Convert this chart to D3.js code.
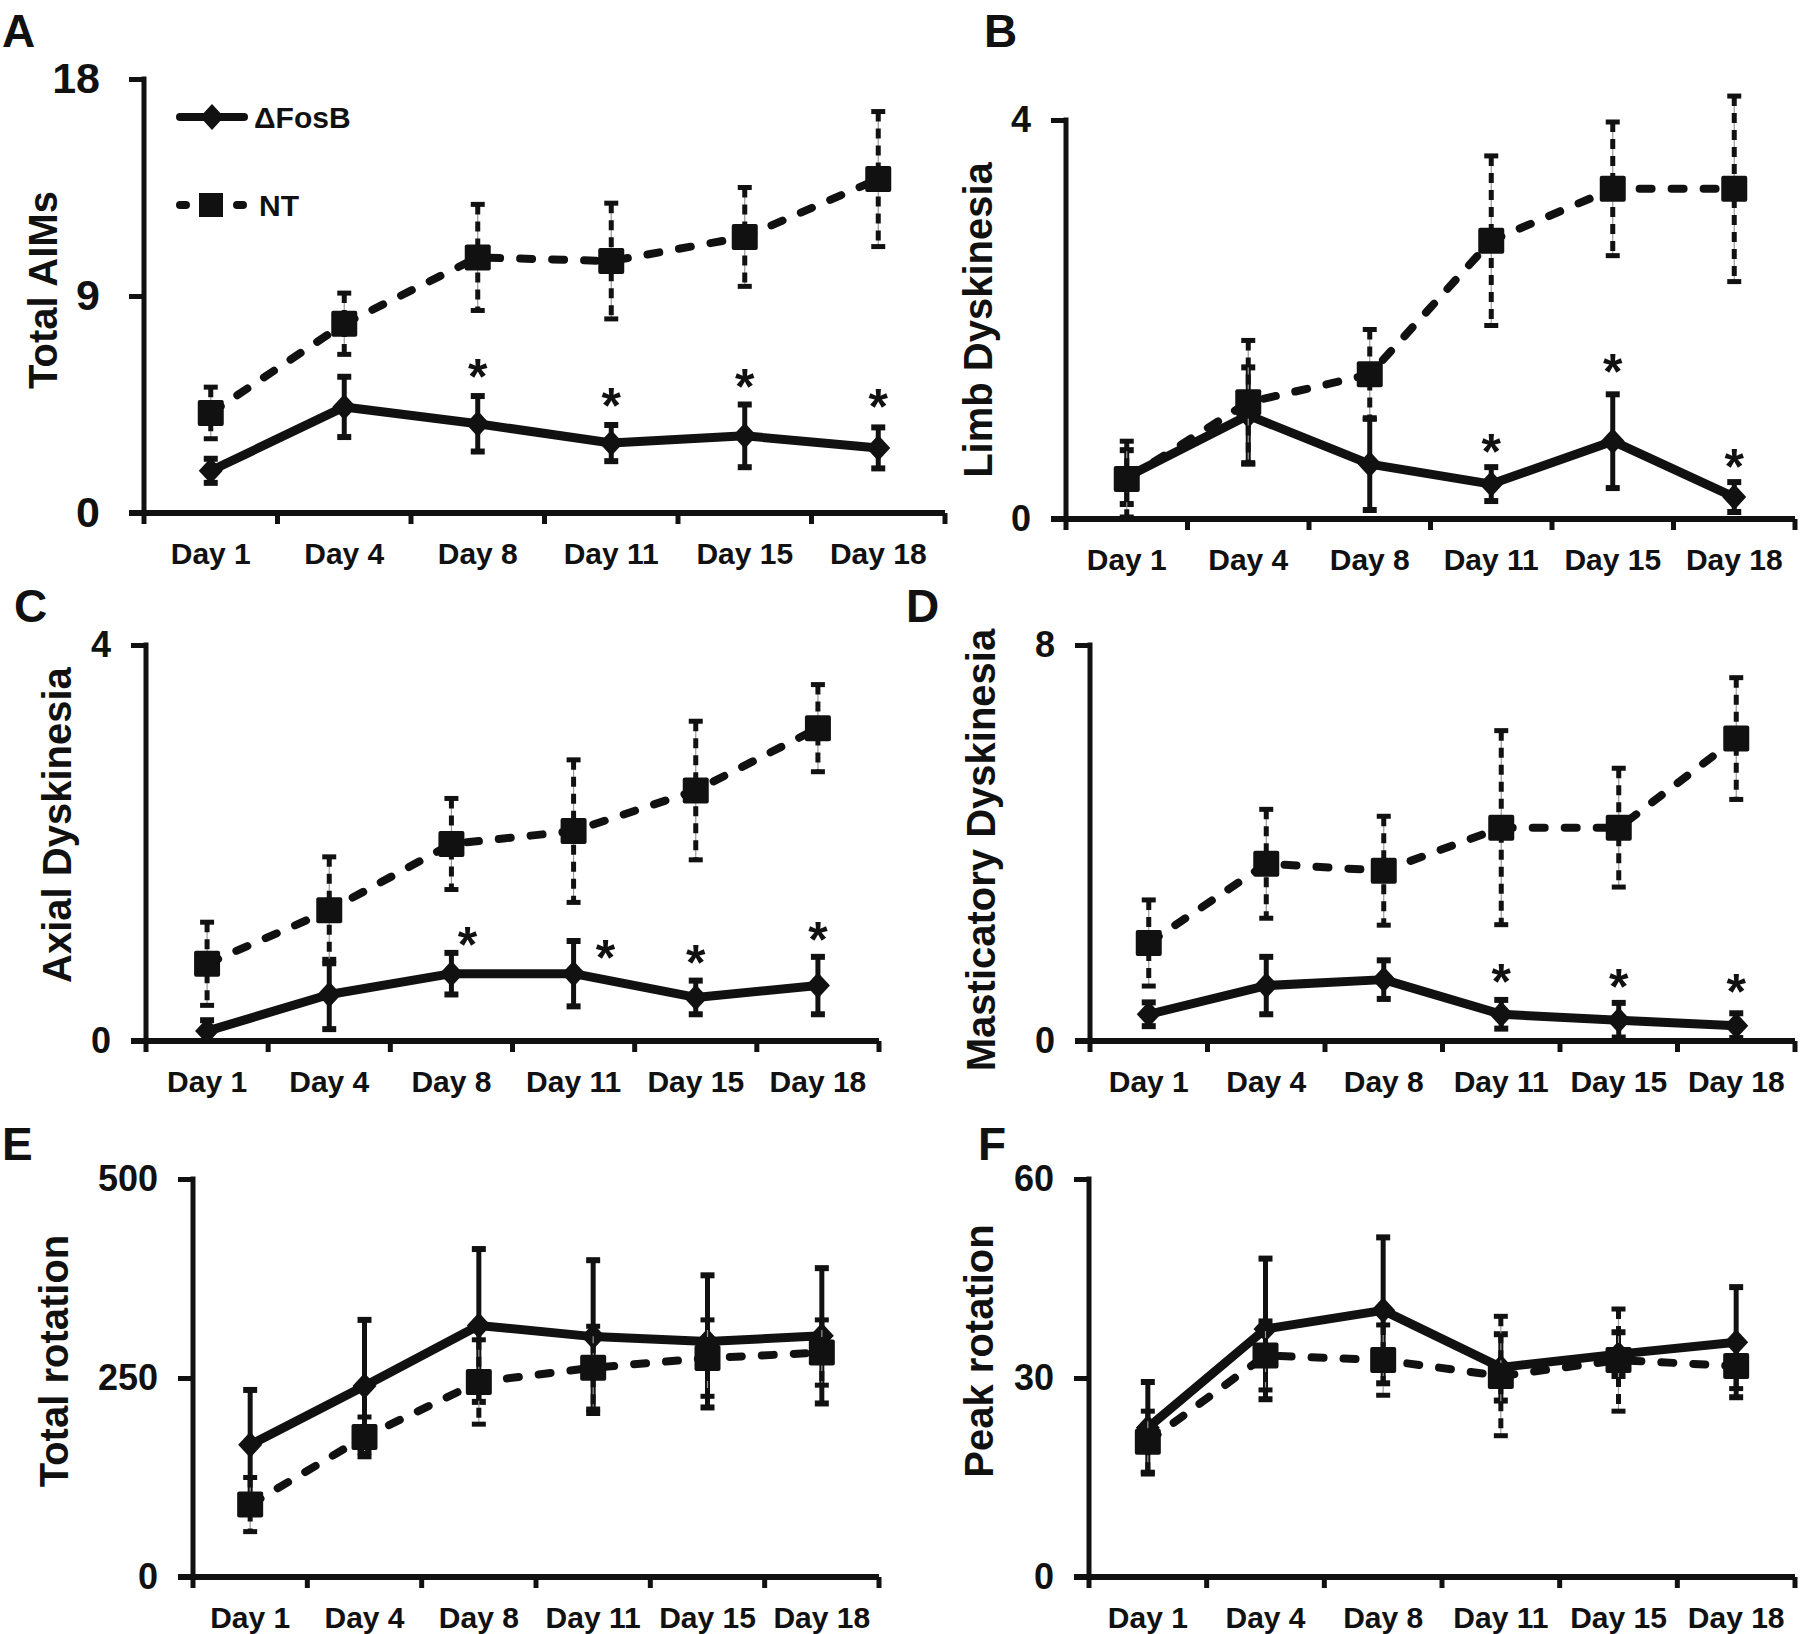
<!DOCTYPE html>
<html>
<head>
<meta charset="utf-8">
<script src="https://cdn.jsdelivr.net/npm/d3@7"></script>
<style>
    body { margin: 0; background: #fff; }
    svg text { font-family: 'Liberation Sans', Arial, sans-serif; font-weight: bold; fill: #111; }
</style>
</head>
<body>
<svg id="fig" width="1800" height="1634"></svg>
<script>
var days = ['Day 1', 'Day 4', 'Day 8', 'Day 11', 'Day 15', 'Day 18'];

// A: total AIMs
var fosbAims = [1.75, 4.4, 3.7, 2.9, 3.2, 2.7];
var fosbAimsSem = [0.5, 1.25, 1.15, 0.75, 1.3, 0.85];
var ntAims = [4.15, 7.85, 10.6, 10.45, 11.45, 13.85];
var ntAimsSem = [1.07, 1.27, 2.2, 2.4, 2.05, 2.8];
var starsAims = [null, null, 6.1, 4.9, 5.7, 4.85];

// B: limb
var fosbLimb = [0.42, 1.04, 0.55, 0.35, 0.78, 0.22];
var fosbLimbSem = [0.27, 0.48, 0.46, 0.17, 0.47, 0.15];
var ntLimb = [0.4, 1.17, 1.45, 2.79, 3.31, 3.31];
var ntLimbSem = [0.38, 0.62, 0.45, 0.85, 0.67, 0.93];
var starsLimb = [null, null, null, 0.78, 1.58, 0.63];

// C: axial
var fosbAxial = [0.1, 0.47, 0.68, 0.68, 0.44, 0.56];
var fosbAxialSem = [0.11, 0.35, 0.21, 0.33, 0.17, 0.29];
var ntAxial = [0.78, 1.32, 1.99, 2.12, 2.53, 3.16];
var ntAxialSem = [0.42, 0.54, 0.46, 0.72, 0.7, 0.44];
var starsAxial = [null, null, 1.08, 0.95, 0.9, 1.13];

// D: masticatory
var fosbMast = [0.54, 1.12, 1.24, 0.54, 0.42, 0.31];
var fosbMastSem = [0.24, 0.58, 0.39, 0.29, 0.35, 0.25];
var ntMast = [1.98, 3.58, 3.44, 4.31, 4.31, 6.11];
var ntMastSem = [0.87, 1.1, 1.1, 1.96, 1.2, 1.23];
var starsMast = [null, null, null, 1.42, 1.32, 1.22];

// E: total rotation
var fosbRot = [166, 240, 316, 302, 296, 303];
var fosbRotSem = [69, 83, 96, 96, 83, 85];
var ntRot = [91, 176, 245, 263, 275, 282];
var ntRotSem = [34, 25, 53, 52, 48, 41];

// F: peak rotation
var fosbPeak = [22.5, 37.4, 40.2, 31.6, 33.6, 35.4];
var fosbPeakSem = [6.9, 10.6, 11.0, 5.0, 3.3, 8.3];
var ntPeak = [20.4, 33.4, 32.7, 30.3, 32.7, 31.8];
var ntPeakSem = [4.6, 5.2, 5.3, 9.0, 7.7, 3.4];

var INK = '#111';

function dyskChart() {

    var _config, _label, _title, _max, _ticks,
        _fosb, _fosbSem, _nt, _ntSem, _stars, _starShift,
        _box, _labelPos, _titlePos, _legend,
        _tickFont = 36, _tickGap = 35;

    var _setConfigParams = function (config) {
        _label = config.label;
        _title = config.title;
        _max = config.max;
        _ticks = config.ticks;
        _fosb = config.fosb;
        _fosbSem = config.fosbSem;
        _nt = config.nt;
        _ntSem = config.ntSem;
        _stars = config.stars || [];
        _starShift = config.starShift || [0, 0, 0, 0, 0, 0];
        _box = config.box;
        _labelPos = config.labelPos;
        _titlePos = config.titlePos;
        _legend = config.legend;
        if (config.tickFont) { _tickFont = config.tickFont; }
        if (config.tickGap) { _tickGap = config.tickGap; }
    }

    var diamond = 'M0,-13L12,0L0,13L-12,0Z';

    var drawErrors = function (g, cx, y, vals, sems, dashed) {
        var bars = g.selectAll('.err')
            .data(vals)
            .enter().append('g')
            .attr('class', 'err');

        if (dashed) {
            bars.append('line')
                .attr('x1', cx).attr('x2', cx)
                .attr('y1', function (d, i) { return y(d + sems[i]); })
                .attr('y2', function (d, i) { return y(Math.max(0, d - sems[i])); })
                .style('stroke', '#999')
                .style('stroke-width', 1.2);
        }

        bars.append('line')
            .attr('x1', cx).attr('x2', cx)
            .attr('y1', function (d, i) { return y(d + sems[i]); })
            .attr('y2', function (d, i) { return y(Math.max(0, d - sems[i])); })
            .style('stroke', INK)
            .style('stroke-width', 5)
            .style('stroke-dasharray', dashed ? '10,7' : null);

        [1, -1].forEach(function (sign) {
            bars.append('line')
                .attr('x1', function (d, i) { return cx(d, i) - 7; })
                .attr('x2', function (d, i) { return cx(d, i) + 7; })
                .attr('y1', function (d, i) { return y(Math.max(0, d + sign * sems[i])); })
                .attr('y2', function (d, i) { return y(Math.max(0, d + sign * sems[i])); })
                .style('stroke', INK)
                .style('stroke-width', dashed ? 5 : 6);
        });
    }

    function chart(selection) {
        selection.each(function () {
            var svg = d3.select(this);
            var g = svg.append('g').attr('class', 'panel panel-' + _label);

            var x = d3.scaleBand().domain(days).range([_box.x0, _box.x1]);
            var y = d3.scaleLinear().domain([0, _max]).range([_box.yBot, _box.yTop]);
            var cx = function (d, i) { return x(days[i]) + x.bandwidth() / 2; };

            // panel letter
            g.append('text')
                .attr('x', _labelPos[0])
                .attr('y', _labelPos[1])
                .style('font-size', '46px')
                .text(_label);

            // y title
            g.append('text')
                .attr('transform', 'translate(' + _titlePos[0] + ',' + _titlePos[1] + ') rotate(-90)')
                .attr('text-anchor', 'middle')
                .style('font-size', '40px')
                .text(_title);

            // y axis
            var yAxis = g.append('g')
                .attr('transform', 'translate(' + _box.x0 + ',0)')
                .call(d3.axisLeft(y).tickValues(_ticks).tickSize(15).tickSizeOuter(0)
                    .tickPadding(_tickGap - 15).tickFormat(d3.format('d')));
            yAxis.select('.domain').remove();
            yAxis.selectAll('.tick line').style('stroke', INK).style('stroke-width', 5);
            yAxis.selectAll('.tick text')
                .style('font-size', _tickFont + 'px')
                .style('font-family', "'Liberation Sans', Arial, sans-serif")
                .style('font-weight', 'bold')
                .style('fill', INK);

            g.append('line')
                .attr('x1', _box.x0).attr('x2', _box.x0)
                .attr('y1', _box.yTop - 2.5).attr('y2', _box.yBot)
                .style('stroke', INK).style('stroke-width', 5);

            // x axis
            var xAxis = g.append('g')
                .attr('transform', 'translate(0,' + _box.yBot + ')')
                .call(d3.axisBottom(x).tickSize(0).tickPadding(30));
            xAxis.select('.domain').remove();
            xAxis.selectAll('.tick text')
                .style('font-size', '30px')
                .style('font-family', "'Liberation Sans', Arial, sans-serif")
                .style('font-weight', 'bold')
                .style('fill', INK);

            g.append('line')
                .attr('x1', _box.x0 - 15).attr('x2', _box.x1)
                .attr('y1', _box.yBot).attr('y2', _box.yBot)
                .style('stroke', INK).style('stroke-width', 6);

            var edges = days.map(function (d) { return x(d); }).concat([_box.x1]);
            g.selectAll('.xtick')
                .data(edges)
                .enter().append('line')
                .attr('class', 'xtick')
                .attr('x1', function (d) { return d; })
                .attr('x2', function (d) { return d; })
                .attr('y1', _box.yBot)
                .attr('y2', _box.yBot + 11)
                .style('stroke', INK).style('stroke-width', 5);

            var line = d3.line()
                .x(cx)
                .y(function (d) { return y(d); });

            // dFosB series, solid with diamonds
            var gf = g.append('g').attr('class', 'fosb');
            gf.append('path')
                .datum(_fosb)
                .attr('d', line)
                .style('fill', 'none')
                .style('stroke', INK)
                .style('stroke-width', 9)
                .style('stroke-linejoin', 'round');
            drawErrors(gf, cx, y, _fosb, _fosbSem, false);
            gf.selectAll('.mk')
                .data(_fosb)
                .enter().append('path')
                .attr('class', 'mk')
                .attr('d', diamond)
                .attr('transform', function (d, i) { return 'translate(' + cx(d, i) + ',' + y(d) + ')'; })
                .style('fill', INK);

            // NT series, dashed with squares
            var gn = g.append('g').attr('class', 'nt');
            gn.append('path')
                .datum(_nt)
                .attr('d', line)
                .style('fill', 'none')
                .style('stroke', INK)
                .style('stroke-width', 8)
                .style('stroke-linecap', 'round')
                .style('stroke-dasharray', '12,20');
            drawErrors(gn, cx, y, _nt, _ntSem, true);
            gn.selectAll('.mk')
                .data(_nt)
                .enter().append('rect')
                .attr('class', 'mk')
                .attr('x', function (d, i) { return cx(d, i) - 13; })
                .attr('y', function (d) { return y(d) - 13; })
                .attr('width', 26).attr('height', 26)
                .attr('rx', 2)
                .style('fill', INK);

            // significance, keep the day index before dropping empty slots
            var starData = _stars.map(function (v, i) { return { v: v, i: i }; })
                .filter(function (d) { return d.v !== null; });
            g.selectAll('.star')
                .data(starData)
                .enter().append('text')
                .attr('class', 'star')
                .attr('text-anchor', 'middle')
                .attr('x', function (d) { return cx(d.v, d.i) + _starShift[d.i]; })
                .attr('y', function (d) { return y(d.v) + 28; })
                .style('font-size', '50px')
                .text('*');

            if (_legend) {
                var lg = g.append('g').attr('class', 'legend');
                var l0 = _legend[0], l1 = _legend[1];
                lg.append('line')
                    .attr('x1', l0[0] + 4).attr('x2', l0[0] + 68)
                    .attr('y1', l0[1]).attr('y2', l0[1])
                    .style('stroke', INK).style('stroke-width', 8).style('stroke-linecap', 'round');
                lg.append('path')
                    .attr('d', diamond)
                    .attr('transform', 'translate(' + (l0[0] + 36) + ',' + l0[1] + ')')
                    .style('fill', INK);
                lg.append('text')
                    .attr('x', l0[0] + 78).attr('y', l0[1] + 11)
                    .style('font-size', '30px')
                    .text('\u0394FosB');
                lg.append('line')
                    .attr('x1', l1[0] + 4).attr('x2', l1[0] + 68)
                    .attr('y1', l1[1]).attr('y2', l1[1])
                    .style('stroke', INK).style('stroke-width', 8).style('stroke-linecap', 'round')
                    .style('stroke-dasharray', '6,51');
                lg.append('rect')
                    .attr('x', l1[0] + 23).attr('y', l1[1] - 12)
                    .attr('width', 24).attr('height', 24)
                    .style('fill', INK);
                lg.append('text')
                    .attr('x', l1[0] + 83).attr('y', l1[1] + 11)
                    .style('font-size', '30px')
                    .text('NT');
            }
        });
    }

    chart.config = function (value) {
        if (!arguments.length) {
            return _config;
        }
        _config = value;
        _setConfigParams.call(chart, _config);
        return chart;
    }

    return chart;
}

var svg = d3.select('#fig');

svg.call(dyskChart().config({
    label: 'A', title: 'Total AIMs', max: 18, ticks: [0, 9, 18],
    fosb: fosbAims, fosbSem: fosbAimsSem, nt: ntAims, ntSem: ntAimsSem, stars: starsAims,
    box: { x0: 144, x1: 945, yTop: 79, yBot: 513 },
    labelPos: [2, 47], titlePos: [57, 290],
    tickFont: 43, tickGap: 44,
    legend: [[176, 117], [176, 205]]
}));

svg.call(dyskChart().config({
    label: 'B', title: 'Limb Dyskinesia', max: 4, ticks: [0, 4],
    fosb: fosbLimb, fosbSem: fosbLimbSem, nt: ntLimb, ntSem: ntLimbSem, stars: starsLimb,
    box: { x0: 1066, x1: 1795, yTop: 120, yBot: 519 },
    labelPos: [984, 47], titlePos: [992, 320]
}));

svg.call(dyskChart().config({
    label: 'C', title: 'Axial Dyskinesia', max: 4, ticks: [0, 4],
    fosb: fosbAxial, fosbSem: fosbAxialSem, nt: ntAxial, ntSem: ntAxialSem, stars: starsAxial,
    starShift: [0, 0, 16, 32, 0, 0],
    box: { x0: 146, x1: 879, yTop: 645, yBot: 1041 },
    labelPos: [14, 622], titlePos: [71, 825]
}));

svg.call(dyskChart().config({
    label: 'D', title: 'Masticatory Dyskinesia', max: 8, ticks: [0, 8],
    fosb: fosbMast, fosbSem: fosbMastSem, nt: ntMast, ntSem: ntMastSem, stars: starsMast,
    box: { x0: 1090, x1: 1795, yTop: 645, yBot: 1041 },
    labelPos: [906, 622], titlePos: [995, 850]
}));

svg.call(dyskChart().config({
    label: 'E', title: 'Total rotation', max: 500, ticks: [0, 250, 500],
    fosb: fosbRot, fosbSem: fosbRotSem, nt: ntRot, ntSem: ntRotSem,
    box: { x0: 193, x1: 879, yTop: 1179, yBot: 1577 },
    labelPos: [2, 1160], titlePos: [68, 1361]
}));

svg.call(dyskChart().config({
    label: 'F', title: 'Peak rotation', max: 60, ticks: [0, 30, 60],
    fosb: fosbPeak, fosbSem: fosbPeakSem, nt: ntPeak, ntSem: ntPeakSem,
    box: { x0: 1089, x1: 1795, yTop: 1179, yBot: 1577 },
    labelPos: [978, 1160], titlePos: [993, 1351]
}));
</script>
</body>
</html>
